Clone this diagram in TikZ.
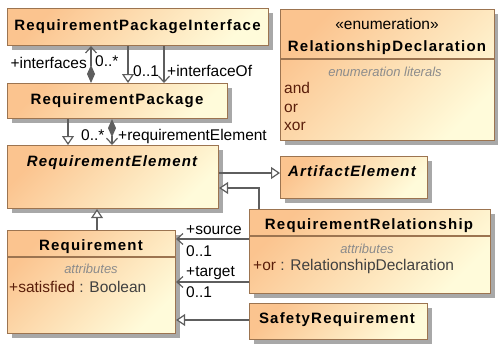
\documentclass[tikz,border=0pt]{standalone}
\usepackage{fontspec}
\setmainfont{Liberation Sans}
\newfontfamily\clsfont[LetterSpace=8]{Liberation Sans}
\usetikzlibrary{arrows.meta,shadows}
\definecolor{boxorange}{HTML}{FBC48F}
\definecolor{boxcream}{HTML}{FFFBDA}
\definecolor{boxline}{HTML}{9C7450}
\definecolor{shadowgray}{HTML}{A8A8A8}
\definecolor{linkgray}{HTML}{5E5E5E}
\definecolor{membername}{HTML}{5A1E0A}
\definecolor{membertype}{HTML}{404040}
\definecolor{compgray}{HTML}{8C8C8C}

\begin{document}
\begin{tikzpicture}[x=1pt,y=-1pt,
  classbox/.style={draw=boxline, line width=1.1pt, top color=boxorange,
    bottom color=boxcream, shading angle=45, anchor=north west, inner sep=0pt,
    drop shadow={shadow xshift=4pt, shadow yshift=-4pt, fill=shadowgray, opacity=1}},
  compline/.style={draw=boxline, line width=1.1pt},
  title/.style={font=\clsfont\bfseries\fontsize{15}{17}\selectfont, inner sep=0pt, anchor=base},
  abstitle/.style={title, font=\clsfont\bfseries\itshape\fontsize{15}{17}\selectfont},
  txt/.style={font=\fontsize{15.5}{17}\selectfont, inner sep=0pt, anchor=base west},
  comptitle/.style={font=\itshape\fontsize{13}{15}\selectfont, text=compgray, inner sep=0pt, anchor=base},
  member/.style={txt, text=membername},
  link/.style={draw=linkgray, line width=1.2pt},
  gen/.style={link, -{Triangle[length=9pt, width=12pt, fill=white]}},
  nav/.style={link, -{Straight Barb[length=6pt, width=11pt]}},
  comp/.style={link, {Diamond[length=18pt, width=8pt]}-{Straight Barb[length=6pt, width=11pt]}},
]
\useasboundingbox (0,0) rectangle (498,343);

% class boxes
\node[classbox, minimum width=261pt, minimum height=37pt] (rpi) at (7,8) {};
\node[classbox, minimum width=220pt, minimum height=35pt] (rp) at (7,83) {};
\node[classbox, minimum width=211pt, minimum height=63pt] (re) at (7,145) {};
\node[classbox, minimum width=168pt, minimum height=103pt] (req) at (7,230) {};
\node[classbox, minimum width=214pt, minimum height=131pt] (rd) at (280,9) {};
\node[classbox, minimum width=147pt, minimum height=42pt] (ae) at (280,156) {};
\node[classbox, minimum width=241pt, minimum height=84pt] (rr) at (249,209) {};
\node[classbox, minimum width=178pt, minimum height=36pt] (sr) at (249,303) {};

% compartment separators
\coordinate (reqsep) at (0,257);
\coordinate (rdsep) at (0,59);
\coordinate (rrsep) at (0,236);
\draw[compline] (req.west |- reqsep) -- (req.east |- reqsep);
\draw[compline] (rd.west |- rdsep) -- (rd.east |- rdsep);
\draw[compline] (rr.west |- rrsep) -- (rr.east |- rrsep);

% class names
\node[title] (rpi-name) at (137.5,30.5) {RequirementPackageInterface};
\node[title] (rp-name) at (117,104) {RequirementPackage};
\node[abstitle] (re-name) at (112,166) {RequirementElement};
\node[title] (req-name) at (91,250) {Requirement};
\node[txt, anchor=base] (rd-stereo) at (387,29) {«enumeration»};
\node[title] (rd-name) at (387,51) {RelationshipDeclaration};
\node[abstitle] (ae-name) at (352,176) {ArtifactElement};
\node[title] (rr-name) at (369,229) {RequirementRelationship};
\node[title] (sr-name) at (337,323) {SafetyRequirement};

% compartments
\node[comptitle] (req-attr) at (91,273) {attributes};
\node[member] (req-sat) at (9,292) {+satisfied \textcolor{membertype}{: Boolean}};
\node[comptitle] (rd-lit) at (385,76) {enumeration literals};
\node[member] (rd-and) at (284,93) {and};
\node[member] (rd-or) at (284,112) {or};
\node[member] (rd-xor) at (284,130) {xor};
\node[comptitle] (rr-attr) at (367,253) {attributes};
\node[member] (rr-or) at (253,270) {+or \textcolor{membertype}{: RelationshipDeclaration}};

% connector positions
\coordinate (xint) at (91,0);
\coordinate (xgen) at (128,0);
\coordinate (xof) at (164,0);
\coordinate (xregen) at (68,0);
\coordinate (xreel) at (112,0);
\coordinate (xreq) at (97,0);
\coordinate (xrr) at (259,0);
\coordinate (yae) at (0,173);
\coordinate (yrr) at (0,188);
\coordinate (ysrc) at (0,239);
\coordinate (ytgt) at (0,282);
\coordinate (ysr) at (0,320);

% connectors
\draw[comp] (rp.north -| xint) -- (rpi.south -| xint);
\draw[gen] (rpi.south -| xgen) -- (rp.north -| xgen);
\draw[nav] (rpi.south -| xof) -- (rp.north -| xof);
\draw[gen] (rp.south -| xregen) -- (re.north -| xregen);
\draw[comp] (rp.south -| xreel) -- (re.north -| xreel);
\draw[gen] (re.east |- yae) -- (ae.west |- yae);
\draw[gen] (rr.north -| xrr) |- (re.east |- yrr);
\draw[gen] (req.north -| xreq) -- (re.south -| xreq);
\draw[nav] (rr.west |- ysrc) -- (req.east |- ysrc);
\draw[nav] (rr.west |- ytgt) -- (req.east |- ytgt);
\draw[gen] (sr.west |- ysr) -- (req.east |- ysr);

% role names and multiplicities
\node[txt, anchor=base east] (l-int) at (87,68) {+interfaces};
\node[txt] (m-int) at (95,66) {0..*};
\node[txt] (m-of) at (133,76) {0..1};
\node[txt] (l-of) at (167,76) {+interfaceOf};
\node[txt] (m-gen) at (81,140) {0..*};
\node[txt] (l-reel) at (118,140) {+requirementElement};
\node[txt] (l-src) at (186,234) {+source};
\node[txt] (m-src) at (186,256) {0..1};
\node[txt] (l-tgt) at (186,276) {+target};
\node[txt] (m-tgt) at (186,297) {0..1};
\end{tikzpicture}
\end{document}
